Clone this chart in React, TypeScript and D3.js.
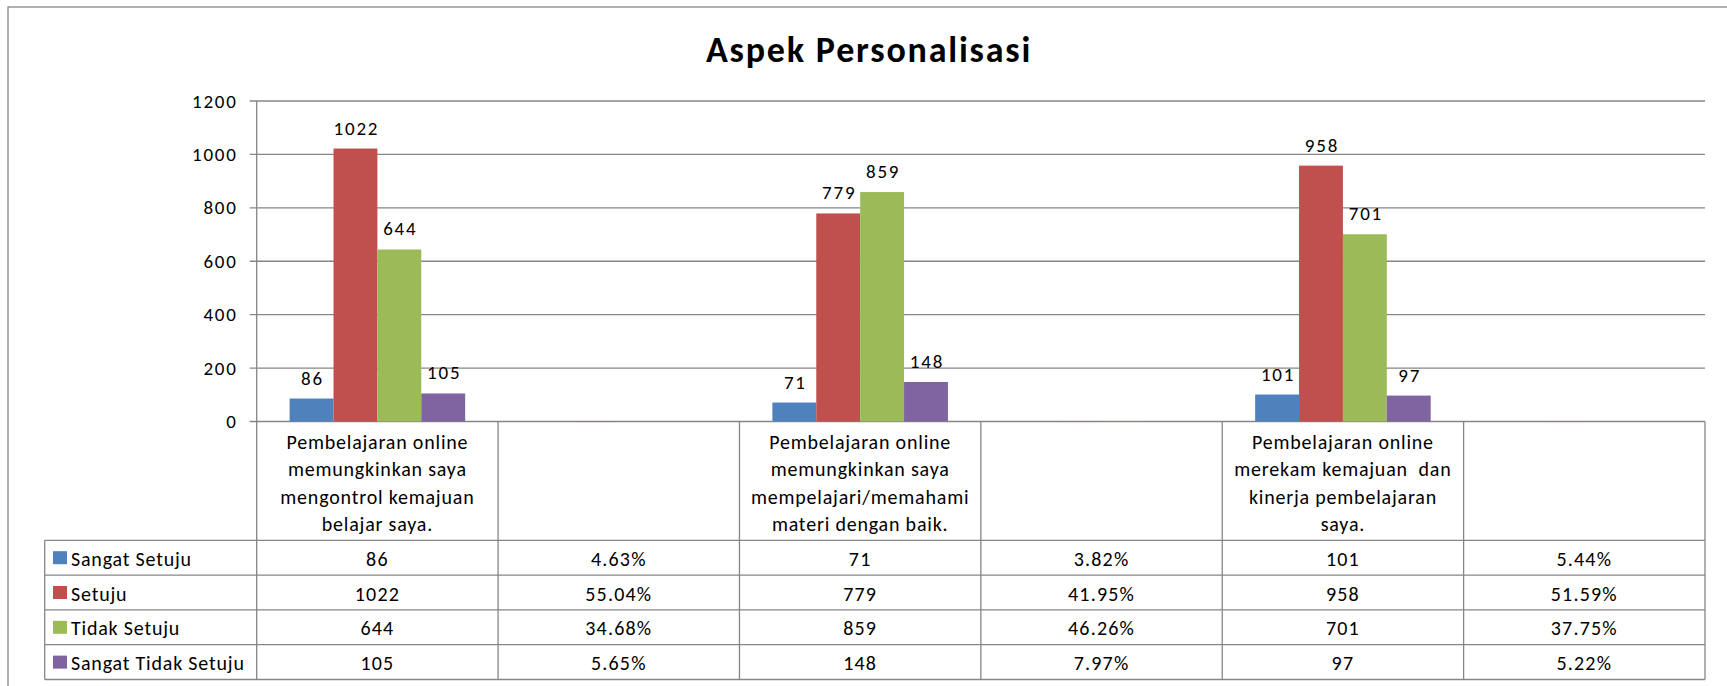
import React from 'react';
import * as d3 from 'd3';

// categories: every second column only carries percentages in the table
const categories = [
  ['Pembelajaran online', 'memungkinkan saya', 'mengontrol kemajuan', 'belajar saya.'],
  [],
  ['Pembelajaran online', 'memungkinkan saya', 'mempelajari/memahami', 'materi dengan baik.'],
  [],
  ['Pembelajaran online', 'merekam kemajuan  dan', 'kinerja pembelajaran', 'saya.'],
  [],
];
const columnKinds = ['count', 'percent', 'count', 'percent', 'count', 'percent'];

const seriesNames = ['Sangat Setuju', 'Setuju', 'Tidak Setuju', 'Sangat Tidak Setuju'];
const sangatSetuju = [86, 0.0463, 71, 0.0382, 101, 0.0544];
const setuju = [1022, 0.5504, 779, 0.4195, 958, 0.5159];
const tidakSetuju = [644, 0.3468, 859, 0.4626, 701, 0.3775];
const sangatTidakSetuju = [105, 0.0565, 148, 0.0797, 97, 0.0522];
const yTicks = [0, 200, 400, 600, 800, 1000, 1200];

const seriesColors = ['#4F81BD', '#C0504D', '#9BBB59', '#8064A2'];
const FONT = "Carlito, Lato, 'Open Sans', sans-serif";
const GRID = '#868686';

const W = 1727;
const H = 686;
const plot = { left: 256.7, right: 1705, top: 101, bottom: 421.5 };
const legendLeft = 44.7;
const headerBottom = 540.3;
const rowH = 34.8;
const tableFont = { fontSize: 20, letterSpacing: 0.8 };
const numFont = { fontSize: 19, letterSpacing: 1.8 };

export default function App() {
  const series = [sangatSetuju, setuju, tidakSetuju, sangatTidakSetuju];
  const idx = categories.map((_, i) => i);

  const x = d3.scaleBand<number>().domain(idx).range([plot.left, plot.right]);
  const xInner = d3
    .scaleBand<number>()
    .domain(series.map((_, i) => i))
    .range([0, x.bandwidth()])
    .paddingInner(0)
    .paddingOuter(0.75);
  const y = d3.scaleLinear().domain([0, 1200]).range([plot.bottom, plot.top]);

  const fmtPct = d3.format('.2%');
  const cellText = (v: number, col: number) =>
    columnKinds[col] === 'percent' ? fmtPct(v) : String(v);

  const rowTop = (r: number) => headerBottom + r * rowH;
  const tableBottom = rowTop(seriesNames.length);

  return (
    <svg
      width={W}
      height={H}
      style={{ position: 'absolute', left: 0, top: 0, background: '#fff' }}
      fontFamily={FONT}
    >
      {/* chart frame, cut off by the window on the right and bottom */}
      <rect x={8} y={7} width={W + 20} height={H + 20} fill="#fff" stroke={GRID} strokeWidth={1.3} />

      <text x={869} y={61.5} textAnchor="middle" fontSize={36} letterSpacing={1.8} fontWeight="bold" fill="#000">
        Aspek Personalisasi
      </text>

      {/* gridlines and y axis */}
      {yTicks.map((t) => (
        <g key={t}>
          <line x1={plot.left - 7} x2={plot.right} y1={y(t)} y2={y(t)} stroke={GRID} strokeWidth={1.3} />
          <text
            x={plot.left - 19}
            y={y(t)}
            textAnchor="end"
            dominantBaseline="central"
            {...numFont}
            fill="#000"
          >
            {t}
          </text>
        </g>
      ))}
      <line x1={plot.left} x2={plot.left} y1={plot.top} y2={tableBottom} stroke={GRID} strokeWidth={1.3} />

      {/* bars */}
      {series.map((vals, s) =>
        vals.map((v, c) => (
          <rect
            key={`${s}-${c}`}
            x={(x(c) ?? 0) + (xInner(s) ?? 0)}
            y={y(v)}
            width={xInner.bandwidth()}
            height={y(0) - y(v)}
            fill={seriesColors[s]}
          />
        ))
      )}

      {/* data labels on the count columns */}
      {series.map((vals, s) =>
        vals.map((v, c) =>
          columnKinds[c] === 'count' ? (
            <text
              key={`l-${s}-${c}`}
              x={(x(c) ?? 0) + (xInner(s) ?? 0) + xInner.bandwidth() / 2 + 1}
              y={y(v) - 14}
              textAnchor="middle"
              {...numFont}
              fill="#000"
            >
              {v}
            </text>
          ) : null
        )
      )}

      {/* data table */}
      <g stroke={GRID} strokeWidth={1.3}>
        {idx.map((c) => (
          <line key={`v${c}`} x1={(x(c) ?? 0) + x.bandwidth()} x2={(x(c) ?? 0) + x.bandwidth()} y1={plot.bottom} y2={tableBottom} />
        ))}
        <line x1={legendLeft} x2={legendLeft} y1={headerBottom} y2={tableBottom} />
        {d3.range(seriesNames.length + 1).map((r) => (
          <line key={`h${r}`} x1={legendLeft} x2={plot.right} y1={rowTop(r)} y2={rowTop(r)} />
        ))}
      </g>

      {categories.map((lines, c) =>
        lines.map((ln, i) => (
          <text
            key={`cat-${c}-${i}`}
            x={(x(c) ?? 0) + x.bandwidth() / 2}
            y={441.7 + i * 27.4}
            textAnchor="middle"
            dominantBaseline="central"
            {...tableFont}
            fill="#000"
            style={{ whiteSpace: 'pre' }}
          >
            {ln}
          </text>
        ))
      )}

      {seriesNames.map((name, s) => (
        <g key={name}>
          <rect x={53} y={rowTop(s) + rowH / 2 - 6.5} width={14} height={13} fill={seriesColors[s]} />
          <text x={71} y={rowTop(s) + rowH / 2 + 1} dominantBaseline="central" {...tableFont} fill="#000">
            {name}
          </text>
          {series[s].map((v, c) => (
            <text
              key={c}
              x={(x(c) ?? 0) + x.bandwidth() / 2}
              y={rowTop(s) + rowH / 2 + 1}
              textAnchor="middle"
              dominantBaseline="central"
              fontSize={20}
              letterSpacing={1.2}
              fill="#000"
            >
              {cellText(v, c)}
            </text>
          ))}
        </g>
      ))}
    </svg>
  );
}
